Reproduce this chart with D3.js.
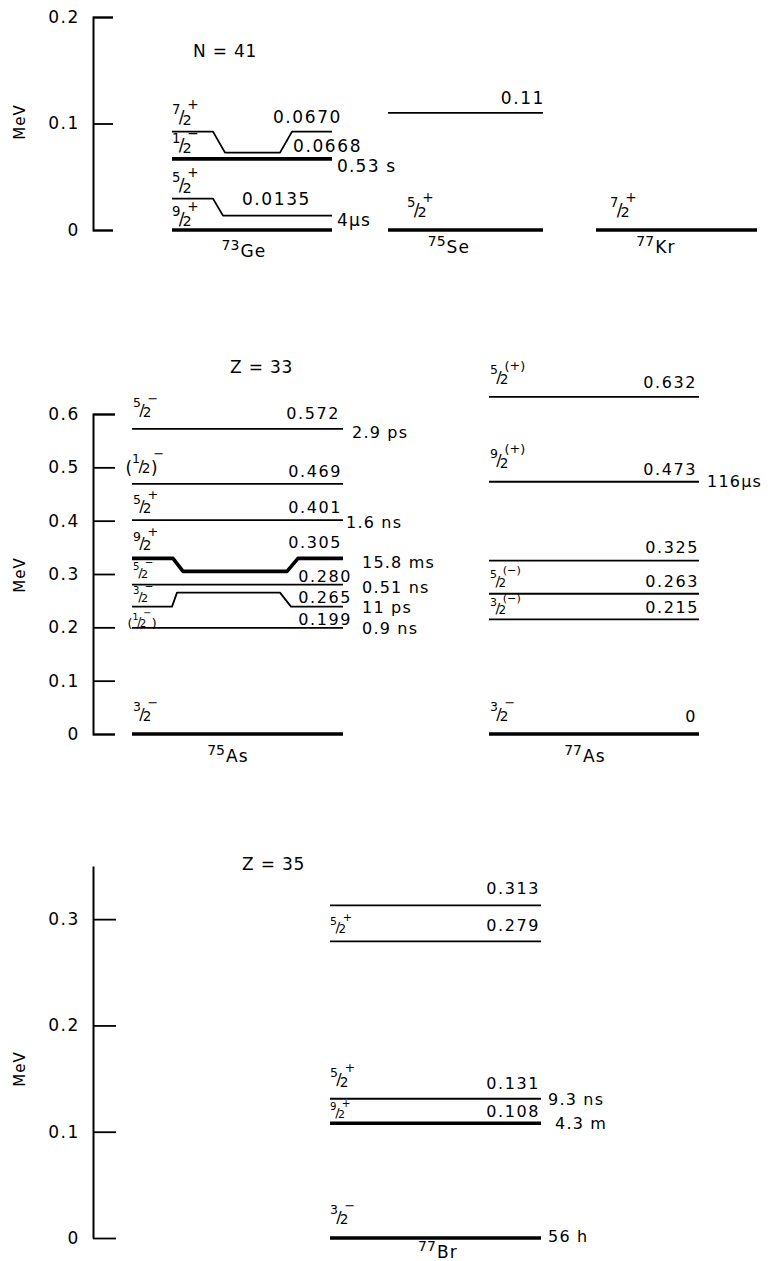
<!DOCTYPE html>
<html>
<head>
<meta charset="utf-8">
<script src="https://cdn.jsdelivr.net/npm/d3@7"></script>
<style>
  html, body { margin: 0; padding: 0; background: #fff; }
  svg { display: block; font-family: "DejaVu Sans", sans-serif; }
</style>
</head>
<body>
<svg id="chart" width="768" height="1261"></svg>
<script>
// ---------- energy-level data (MeV) ----------
const p1Ticks = [0, 0.1, 0.2];
const p2Ticks = [0, 0.1, 0.2, 0.3, 0.4, 0.5, 0.6];
const p3Ticks = [0, 0.1, 0.2, 0.3];

const ge73Energy   = [0, 0.0135, 0.0668, 0.0670];
const ge73Spin     = ["9/2+", "5/2+", "1/2-", "7/2+"];
const ge73Label    = ["", "0.0135", "0.0668", "0.0670"];
const ge73HalfLife = ["", "4μs", "0.53 s", ""];

const se75Energy   = [0, 0.11];
const se75Spin     = ["5/2+", ""];
const se75Label    = ["", "0.11"];
const se75HalfLife = ["", ""];

const kr77Energy   = [0];
const kr77Spin     = ["7/2+"];
const kr77Label    = [""];
const kr77HalfLife = [""];

const as75Energy   = [0, 0.199, 0.265, 0.280, 0.305, 0.401, 0.469, 0.572];
const as75Spin     = ["3/2-", "(1/2-)", "3/2-", "5/2-", "9/2+", "5/2+", "(1/2)-", "5/2-"];
const as75Label    = ["", "0.199", "0.265", "0.280", "0.305", "0.401", "0.469", "0.572"];
const as75HalfLife = ["", "0.9 ns", "11 ps", "0.51 ns", "15.8 ms", "1.6 ns", "", "2.9 ps"];

const as77Energy   = [0, 0.215, 0.263, 0.325, 0.473, 0.632];
const as77Spin     = ["3/2-", "3/2(-)", "5/2(-)", "", "9/2(+)", "5/2(+)"];
const as77Label    = ["0", "0.215", "0.263", "0.325", "0.473", "0.632"];
const as77HalfLife = ["", "", "", "", "116μs", ""];

const br77Energy   = [0, 0.108, 0.131, 0.279, 0.313];
const br77Spin     = ["3/2-", "9/2+", "5/2+", "5/2+", ""];
const br77Label    = ["", "0.108", "0.131", "0.279", "0.313"];
const br77HalfLife = ["56 h", "4.3 m", "9.3 ns", "", ""];

// ---------- drawing ----------
const svg = d3.select("#chart");
const AXIS_X = 93;
const THIN = 1.8, THICK = 3.6;

const panels = [
  { domain: [0, 0.2],  range: [230, 17],   ticks: p1Ticks, outer: -20, inner: -20, mev: 122,  title: "N = 41", tx: 193, ty: 57,  font: 17 },
  { domain: [0, 0.6],  range: [734, 414],  ticks: p2Ticks, outer: -22, inner: -22, mev: 575,  title: "Z = 33", tx: 230, ty: 373, font: 16 },
  { domain: [0, 0.35], range: [1238, 866], ticks: p3Ticks, outer: 0,   inner: -23, mev: 1069, title: "Z = 35", tx: 242, ty: 870, font: 16 }
];

const tickFmt = d => d === 0 ? "0" : d3.format(".1f")(d);

panels.forEach(p => {
  p.y = d3.scaleLinear().domain(p.domain).range(p.range);
  const g = svg.append("g").attr("transform", `translate(${AXIS_X},0)`)
    .call(d3.axisLeft(p.y).tickValues(p.ticks).tickSizeInner(p.inner)
      .tickSizeOuter(p.outer).tickPadding(13).tickFormat(tickFmt));
  g.attr("font-family", null).attr("font-size", null);
  g.select(".domain").attr("stroke", "#000").attr("stroke-width", 2);
  g.selectAll(".tick line").attr("stroke", "#000").attr("stroke-width", 1.8);
  g.selectAll(".tick text").attr("fill", "#000").attr("font-size", 17).attr("letter-spacing", 1.6);

  svg.append("text")
    .attr("transform", `translate(20,${p.mev}) rotate(-90)`)
    .attr("text-anchor", "middle").attr("dy", "0.35em")
    .attr("font-size", 15).attr("letter-spacing", 1).text("MeV");

  svg.append("text").attr("x", p.tx).attr("y", p.ty)
    .attr("font-size", 17).attr("letter-spacing", 0.8).text(p.title);
});

// split a spin-parity string into drawable pieces
function spinPieces(s) {
  const m = s.match(/^(\(?)(\d+)\/(\d+)(.*)$/);
  const out = [];
  let openBase = m[1] === "(";
  let supOpen = false;
  if (openBase) out.push({ t: "(", role: "paren" });
  out.push({ t: m[2], role: "num" });
  out.push({ t: "/", role: "slash" });
  out.push({ t: m[3], role: "den" });
  for (const c of m[4]) {
    if (c === ")" && openBase && !supOpen) { out.push({ t: ")", role: "paren" }); openBase = false; }
    else if (c === "(") { supOpen = true; out.push({ t: "(", role: "sup" }); }
    else if (c === ")") { supOpen = false; out.push({ t: ")", role: "sup" }); }
    else out.push({ t: c === "-" ? "\u2212" : c, role: "sup" });
  }
  return out;
}

function spinLabel(g, x, y0, s, S) {
  const t = g.append("text").attr("x", x).attr("y", y0);
  let cur = 0;           // current vertical offset from baseline
  let firstSup = true;
  spinPieces(s).forEach(p => {
    let fs, off, dx = 0;
    if (p.role === "paren") { fs = 1.05 * S; off = 0.1 * S; dx = 0.5; }
    else if (p.role === "num") { fs = 0.78 * S; off = -0.6 * S; }
    else if (p.role === "slash") { fs = 1.0 * S; off = -0.08 * S; dx = -0.1 * S; }
    else if (p.role === "den") { fs = 0.85 * S; off = 0; dx = -0.12 * S; }
    else { fs = 0.8 * S; off = -0.9 * S; if (firstSup) { dx = -0.25 * S; firstSup = false; } }
    t.append("tspan").attr("font-size", fs).attr("dx", dx).attr("dy", off - cur).text(p.t);
    cur = off;
  });
}

function isotopeLabel(g, cx, y0, mass, sym) {
  const t = g.append("text").attr("x", cx).attr("y", y0).attr("text-anchor", "middle");
  t.append("tspan").attr("font-size", 14).attr("dy", -7).text(mass);
  t.append("tspan").attr("font-size", 17).attr("dx", 1).attr("dy", 7).attr("letter-spacing", 1.2).text(sym);
}

function drawNucleus(panel, cfg, energy, spin, label, halfLife) {
  const y = panel.y;
  const g = svg.append("g");
  const line = d3.line();
  energy.forEach((E, i) => {
    const lv = cfg.levels[i] || {};
    const base = y(E);
    const pts = lv.kink || [[cfg.x0, 0], [cfg.x1, 0]];
    g.append("path")
      .attr("d", line(pts.map(q => [q[0], base + q[1]])))
      .attr("fill", "none").attr("stroke", "#000")
      .attr("stroke-width", lv.thick ? THICK : THIN)
      .attr("stroke-linejoin", "round");
    if (spin[i] && lv.spin) spinLabel(g, lv.spin.x, base + lv.spin.dy, spin[i], lv.spin.S);
    if (label[i] && lv.value) {
      g.append("text").attr("x", lv.value.x).attr("y", base + lv.value.dy)
        .attr("text-anchor", lv.value.anchor || "end")
        .attr("font-size", panel.font).attr("letter-spacing", 1.6).text(label[i]);
    }
    if (halfLife[i] && lv.hl) {
      g.append("text").attr("x", lv.hl.x).attr("y", base + lv.hl.dy).attr("dy", "0.36em")
        .attr("font-size", panel.font).attr("letter-spacing", 1.2).text(halfLife[i]);
    }
  });
  isotopeLabel(g, cfg.iso.cx, y(0) + cfg.iso.dy, cfg.iso.mass, cfg.iso.sym);
}

const ge73Layout = {
  x0: 172, x1: 332, iso: { mass: "73", sym: "Ge", cx: 244, dy: 27 },
  levels: [
    { thick: true, spin: { x: 172, dy: -4, S: 17 } },
    { kink: [[172, -17], [213, -17], [223, 0], [332, 0]],
      spin: { x: 172, dy: -23, S: 17 }, value: { x: 311, dy: -11 }, hl: { x: 337, dy: 4 } },
    { thick: true, spin: { x: 172, dy: -6, S: 17 }, value: { x: 293, dy: -7, anchor: "start" }, hl: { x: 337, dy: 7 } },
    { kink: [[172, -27], [213, -27], [225, -6], [280, -6], [292, -27], [332, -27]],
      spin: { x: 172, dy: -34, S: 17 }, value: { x: 342, dy: -36 } }
  ]
};
const se75Layout = {
  x0: 388, x1: 543, iso: { mass: "75", sym: "Se", cx: 449, dy: 23 },
  levels: [
    { thick: true, spin: { x: 407, dy: -13, S: 17 } },
    { value: { x: 545, dy: -9 } }
  ]
};
const kr77Layout = {
  x0: 596, x1: 757, iso: { mass: "77", sym: "Kr", cx: 656, dy: 23 },
  levels: [ { thick: true, spin: { x: 610, dy: -13, S: 17 } } ]
};
const as75Layout = {
  x0: 132, x1: 343, iso: { mass: "75", sym: "As", cx: 228, dy: 28 },
  levels: [
    { thick: true, spin: { x: 133, dy: -13, S: 16 } },
    { spin: { x: 127, dy: -1, S: 12 }, value: { x: 352, dy: -3 }, hl: { x: 362, dy: 0 } },
    { kink: [[132, 14], [172, 14], [177, 0], [280, 0], [291, 14], [343, 14]],
      spin: { x: 133, dy: 9, S: 13 }, value: { x: 352, dy: 10 }, hl: { x: 362, dy: 15 } },
    { spin: { x: 133, dy: -7, S: 13 }, value: { x: 352, dy: -3 }, hl: { x: 362, dy: 3 } },
    { thick: true, kink: [[132, -13], [173, -13], [183, 0], [287, 0], [298, -13], [343, -13]],
      spin: { x: 133, dy: -21, S: 16 }, value: { x: 342, dy: -23 }, hl: { x: 362, dy: -9 } },
    { spin: { x: 133, dy: -7, S: 16 }, value: { x: 342, dy: -7 }, hl: { x: 346, dy: 2 } },
    { spin: { x: 125, dy: -11, S: 16 }, value: { x: 342, dy: -7 } },
    { spin: { x: 133, dy: -12, S: 16 }, value: { x: 340, dy: -10 }, hl: { x: 352, dy: 3 } }
  ]
};
const as77Layout = {
  x0: 489, x1: 699, iso: { mass: "77", sym: "As", cx: 585, dy: 28 },
  levels: [
    { thick: true, spin: { x: 490, dy: -13, S: 16 }, value: { x: 697, dy: -12 } },
    { spin: { x: 490, dy: -5, S: 14 }, value: { x: 699, dy: -6 } },
    { spin: { x: 490, dy: -7, S: 14 }, value: { x: 699, dy: -7 } },
    { value: { x: 699, dy: -8 } },
    { spin: { x: 490, dy: -14, S: 16 }, value: { x: 697, dy: -7 }, hl: { x: 707, dy: 0 } },
    { spin: { x: 490, dy: -13, S: 16 }, value: { x: 697, dy: -9 } }
  ]
};
const br77Layout = {
  x0: 330, x1: 541, iso: { mass: "77", sym: "Br", cx: 438, dy: 20 },
  levels: [
    { thick: true, spin: { x: 330, dy: -14, S: 16 }, hl: { x: 548, dy: -2 } },
    { thick: true, spin: { x: 330, dy: -5, S: 13 }, value: { x: 540, dy: -6 }, hl: { x: 555, dy: 0 } },
    { spin: { x: 330, dy: -12, S: 16 }, value: { x: 540, dy: -10 }, hl: { x: 548, dy: 0 } },
    { spin: { x: 330, dy: -8, S: 14 }, value: { x: 540, dy: -10 } },
    { value: { x: 540, dy: -11 } }
  ]
};

drawNucleus(panels[0], ge73Layout, ge73Energy, ge73Spin, ge73Label, ge73HalfLife);
drawNucleus(panels[0], se75Layout, se75Energy, se75Spin, se75Label, se75HalfLife);
drawNucleus(panels[0], kr77Layout, kr77Energy, kr77Spin, kr77Label, kr77HalfLife);
drawNucleus(panels[1], as75Layout, as75Energy, as75Spin, as75Label, as75HalfLife);
drawNucleus(panels[1], as77Layout, as77Energy, as77Spin, as77Label, as77HalfLife);
drawNucleus(panels[2], br77Layout, br77Energy, br77Spin, br77Label, br77HalfLife);
</script>
</body>
</html>
